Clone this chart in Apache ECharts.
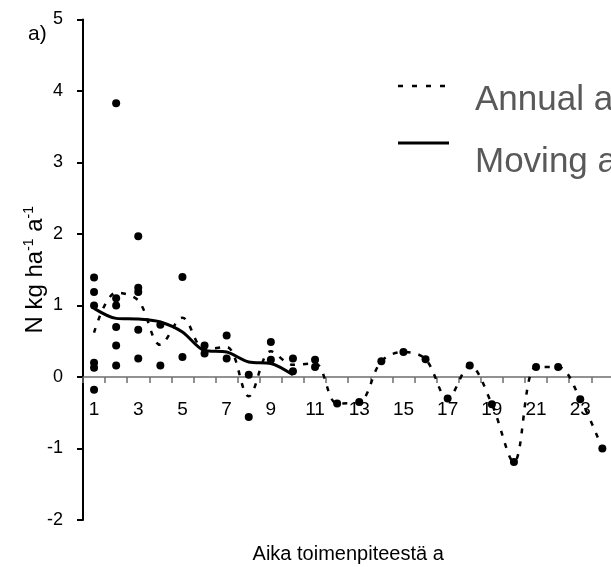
<!DOCTYPE html>
<html>
<head>
<meta charset="utf-8">
<script src="https://cdn.jsdelivr.net/npm/echarts@6/dist/echarts.min.js"></script>
<style>
  html, body { margin: 0; padding: 0; background: #ffffff; }
  #chart { width: 611px; height: 567px; }
</style>
</head>
<body>
<div id="chart"></div>
<script>
// Years since the treatment (category axis)
const years = ['1','2','3','4','5','6','7','8','9','10','11','12','13','14','15','16','17','18','19','20','21','22','23','24'];

// Individual observations per year (N kg ha-1 a-1)
const observations = [
  [1.39, 1.19, 1.00, 0.20, 0.13, -0.18],
  [3.83, 1.10, 1.00, 0.70, 0.44, 0.16],
  [1.97, 1.25, 1.19, 0.66, 0.26],
  [0.73, 0.16],
  [1.40, 0.28],
  [0.44, 0.33],
  [0.58, 0.26],
  [0.03, -0.56],
  [0.49, 0.24],
  [0.26, 0.08],
  [0.24, 0.14],
  [-0.37],
  [-0.35],
  [0.22],
  [0.35],
  [0.25],
  [-0.30],
  [0.16],
  [-0.38],
  [-1.19],
  [0.14],
  [0.14],
  [-0.31],
  [-1.00]
];

// Annual average per year
const annualAverage = [0.62, 1.18, 1.07, 0.45, 0.83, 0.39, 0.42, -0.27, 0.36, 0.17, 0.19,
  -0.37, -0.35, 0.22, 0.35, 0.25, -0.30, 0.16, -0.38, -1.19, 0.14, 0.14, -0.31, -1.00];

// Moving average (first ten years)
const movingAverage = [0.96, 0.82, 0.81, 0.77, 0.63, 0.37, 0.35, 0.21, 0.19, 0.03];

// Y axis ticks
const yMin = -2, yMax = 5, yStep = 1;

const scatterData = [];
observations.forEach((vals, i) => {
  vals.forEach(v => scatterData.push([years[i], v]));
});

const chart = echarts.init(document.getElementById('chart'), null, { renderer: 'canvas' });
const FONT = 'Liberation Sans, Arial, sans-serif';

const gridTop = 19.5, gridBottom = 47, chartH = 567;
const plotH = chartH - gridTop - gridBottom;
// Shift the category axis up so it sits at y = 0 with its labels and name
const zeroOffset = -plotH * (0 - yMin) / (yMax - yMin);

chart.setOption({
  animation: false,
  backgroundColor: '#ffffff',
  title: {
    text: 'a)',
    left: 23, top: 19,
    textStyle: { fontFamily: FONT, fontSize: 21, fontWeight: 'normal', color: '#000' }
  },
  grid: {
    left: 83, top: gridTop, width: 530.4, bottom: gridBottom,
    containLabel: false, outerBoundsMode: 'none'
  },
  xAxis: {
    type: 'category',
    data: years,
    boundaryGap: true,
    position: 'bottom',
    offset: zeroOffset,
    axisLine: { onZero: false, lineStyle: { color: '#6e6e6e', width: 1.5 } },
    axisTick: { show: true, interval: 0, length: 6, inside: false, lineStyle: { color: '#6e6e6e', width: 1.5 } },
    axisLabel: { interval: 1, margin: 23, fontFamily: FONT, fontSize: 19, color: '#000' },
    splitLine: { show: false },
    name: 'Aika toimenpiteestä a',
    nameLocation: 'middle',
    nameGap: 167,
    nameMoveOverlap: false,
    nameTextStyle: { fontFamily: FONT, fontSize: 20, color: '#000' }
  },
  yAxis: {
    type: 'value',
    min: yMin, max: yMax, interval: yStep,
    axisLine: { show: true, onZero: false, lineStyle: { color: '#000', width: 2 } },
    axisTick: { show: true, length: 6, inside: false, lineStyle: { color: '#000', width: 2 } },
    axisLabel: { margin: 20, fontFamily: FONT, fontSize: 18, color: '#000' },
    splitLine: { show: false },
    name: 'N kg ha{sup|-1} a{sup|-1}',
    nameLocation: 'middle',
    nameRotate: 90,
    nameGap: 35,
    nameMoveOverlap: false,
    nameTextStyle: {
      fontFamily: FONT, fontSize: 24, color: '#000', lineHeight: 26,
      rich: {
        sup: { fontFamily: FONT, fontSize: 14, color: '#000', verticalAlign: 'top', lineHeight: 26 }
      }
    }
  },
  graphic: [
    { type: 'line', shape: { x1: 398, y1: 86, x2: 449, y2: 86 },
      style: { stroke: '#000', lineWidth: 2.5, lineDash: [5, 9] } },
    { type: 'text', x: 475, y: 100,
      style: { text: 'Annual average', fontFamily: FONT, fontSize: 35, fill: '#595959', verticalAlign: 'middle' } },
    { type: 'line', shape: { x1: 398, y1: 143, x2: 449, y2: 143 },
      style: { stroke: '#000', lineWidth: 3 } },
    { type: 'text', x: 475, y: 162,
      style: { text: 'Moving average', fontFamily: FONT, fontSize: 35, fill: '#595959', verticalAlign: 'middle' } }
  ],
  series: [
    {
      name: 'Annual average',
      type: 'line',
      data: annualAverage,
      smooth: 0.35,
      symbol: 'none',
      lineStyle: { color: '#000', width: 2.5, type: [5, 8] },
      z: 2
    },
    {
      name: 'Moving average',
      type: 'line',
      data: movingAverage,
      smooth: 0.3,
      symbol: 'none',
      lineStyle: { color: '#000', width: 3 },
      z: 3
    },
    {
      name: 'Observations',
      type: 'scatter',
      data: scatterData,
      symbol: 'circle',
      symbolSize: 8,
      itemStyle: { color: '#000', opacity: 1 },
      z: 4
    }
  ]
});
</script>
</body>
</html>
